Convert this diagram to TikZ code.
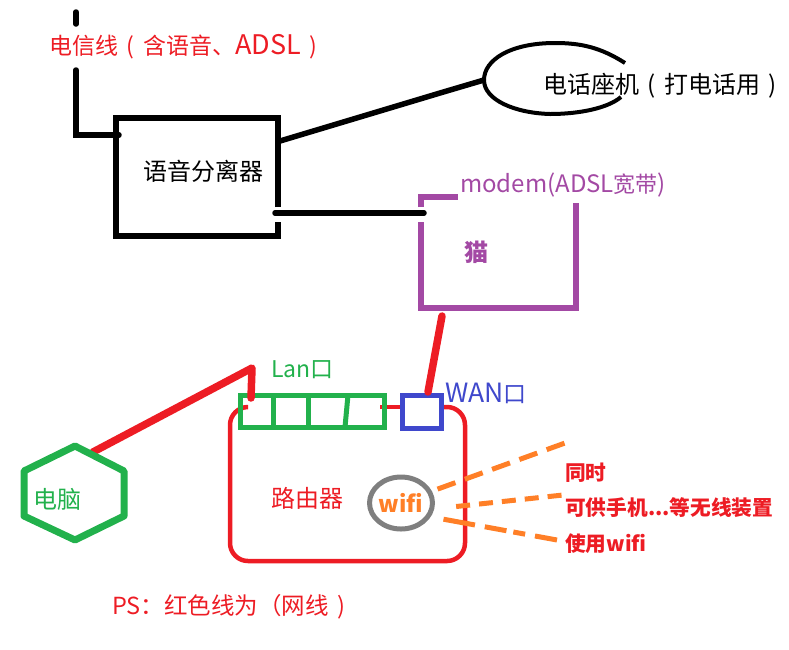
\documentclass[tikz,border=0pt]{standalone}
\usepackage{fontspec}
\setmainfont{Noto Sans CJK SC}
\usetikzlibrary{shapes.geometric}
\definecolor{netred}{HTML}{ED1C24}
\definecolor{langreen}{HTML}{22B14C}
\definecolor{wanblue}{HTML}{3F48CC}
\definecolor{modempurple}{HTML}{A349A4}
\definecolor{wifiorange}{HTML}{FF7F27}
\definecolor{wifigray}{HTML}{7F7F7F}
\newcommand{\openpar}{\makebox[25pt][c]{(}}
\newcommand{\closepar}{\makebox[25pt][c]{)}}
\newcommand{\latinbig}[2]{{\fontsize{#1}{#1}\selectfont #2}}
\tikzset{
  txt/.style={inner sep=0pt,font=\fontsize{23}{23}\selectfont},
  txtbold/.style={inner sep=0pt,font=\fontsize{20.7}{20.7}\selectfont\bfseries,text=netred,anchor=west},
  telline/.style={line width=5.5pt,line join=miter},
  netline/.style={draw=netred,line width=7.5pt,line cap=round,line join=round},
  wifiline/.style={draw=wifiorange,line width=5pt},
}
\begin{document}
\begin{tikzpicture}[x=1pt,y=-1pt]
\useasboundingbox (0,0) rectangle (789,649);
\node[txt,text=netred,anchor=west] (lineLabel) at (49,47) {电信线\openpar 含语音、\latinbig{27}{ADSL}\closepar};
\node[txt,font=\fontsize{24}{24}\selectfont] (splitter) at (203,171) {语音分离器};
\node[txt,anchor=west,font=\fontsize{24}{24}\selectfont] (phone) at (543,86) {电话座机\openpar 打电话用\closepar};
\node[txt,text=modempurple,anchor=west,font=\fontsize{22}{22}\selectfont] (modemLabel) at (460,185) {\latinbig{24}{modem(ADSL}宽带\latinbig{24}{)}};
\node[txt,text=modempurple,font=\fontsize{24}{24}\selectfont\bfseries] (modem) at (476,252) {猫};
\node[txt,text=langreen,anchor=west] (lanLabel) at (271,370) {Lan口};
\node[txt,text=wanblue,anchor=west] (wanLabel) at (445,393) {\latinbig{26.5}{WAN}口};
\node[txt,text=langreen,font=\fontsize{24}{24}\selectfont] (pc) at (57,499) {电脑};
\node[txt,text=netred,font=\fontsize{24}{24}\selectfont] (router) at (307,498) {路由器};
\node[ellipse,draw=wifigray,line width=5pt,inner sep=0pt,minimum width=62pt,minimum height=52pt,text=wifiorange,font=\fontsize{23}{23}\selectfont\bfseries] (wifi) at (401,503) {wifi};
\node[txtbold] (same) at (565,473) {同时};
\node[txtbold] (phones) at (565,508) {可供手机...等无线装置};
\node[txtbold] (use) at (565,544) {使用wifi};
\node[txt,text=netred,anchor=west,font=\fontsize{23.5}{23.5}\selectfont] (ps) at (112,607) {PS：红色线为（网线\closepar};

\coordinate (lineTop) at (76,12);
\coordinate (lineStub) at (76,24);
\coordinate (lineBelow) at (76,70);
\coordinate (lineBend) at (76,135);
\coordinate (splitterIn) at (119,135);
\coordinate (splitterPhone) at (280,141);
\coordinate (phoneBend) at (440,93);
\coordinate (phoneIn) at (484,80);
\coordinate (splitterModem) at (275,213);
\coordinate (modemIn) at (424,213);
\coordinate (modemOut) at (442,316);
\coordinate (wanIn) at (428,392);
\coordinate (pcOut) at (93,452);
\coordinate (cableBend) at (252,368);
\coordinate (lanIn) at (251,398);
\coordinate (wifiA) at (565,443);
\coordinate (wifiB) at (563,495);
\coordinate (wifiC) at (557,540);

\draw[telline,line cap=round] (lineTop) -- (lineStub);
\draw[telline,line cap=round] (lineBelow) -- (lineBend) -- (splitterIn);
\draw[telline] (278,207) -- (278,118) -- (116,118) -- (116,236) -- (278,236) -- (278,222);
\draw[telline] (splitterPhone) -- (phoneBend) -- (phoneIn);
\draw[line width=4pt] (625,63) .. controls (600,47) and (580,43) .. (555,43) .. controls (510,43) and (484,60) .. (484,80) .. controls (484,100) and (515,113) .. (550,114) .. controls (580,114) and (608,108) .. (621,97);
\draw[telline,line cap=round] (splitterModem) -- (modemIn);
\draw[modempurple,line width=5.5pt] (421,207) -- (421,197) -- (458,197);
\draw[modempurple,line width=5.5pt] (421,222) -- (421,308) -- (576,308) -- (576,203);

\draw[netred,line width=4.5pt,rounded corners=18pt] (246,407) -- (230,407) -- (230,561) -- (465,561) -- (465,407) -- (441,407);
\draw[netred,line width=4.5pt] (380,407) -- (404,407);
\draw[langreen,line width=5pt] (240,395) rectangle (384,427);
\draw[langreen,line width=5pt] (273,395) -- (273,427);
\draw[langreen,line width=5pt] (308,395) -- (308,427);
\draw[langreen,line width=5pt] (348,395) -- (345,427);
\draw[wanblue,line width=5pt] (402,395) rectangle (441,428);
\draw[netline] (modemOut) -- (wanIn);
\draw[netline] (pcOut) -- (cableBend) -- (lanIn);
\draw[langreen,line width=7pt,line join=round] (75,446) -- (124,471) -- (124,516) -- (75,540) -- (24,516) -- (24,471) -- cycle;

\draw[wifiline,dash pattern=on 19pt off 10pt,shorten <=6pt] (wifi.21) -- (wifiA);
\draw[wifiline,dash pattern=on 14pt off 9pt,shorten <=22pt] (wifi.-10) -- (wifiB);
\draw[wifiline,dash pattern=on 32pt off 10pt on 22pt off 7pt on 12pt off 10pt on 24pt off 10pt,shorten <=13pt] (wifi.-25) -- (wifiC);
\end{tikzpicture}
\end{document}
